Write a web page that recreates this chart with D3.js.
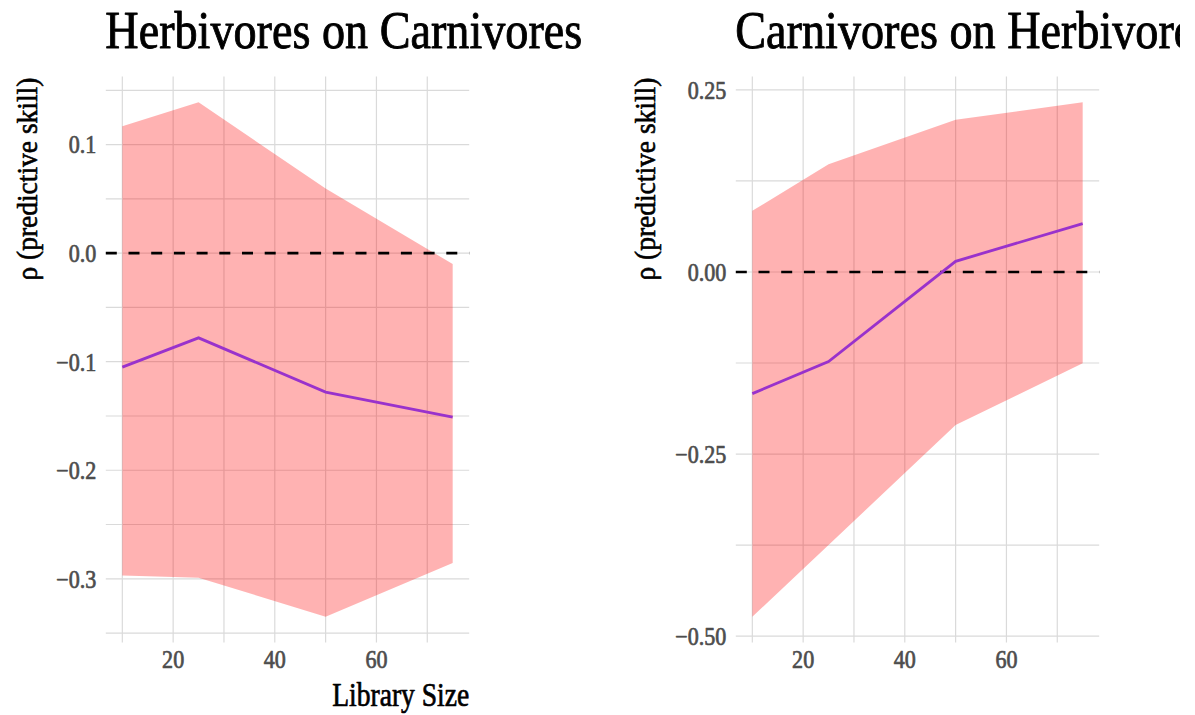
<!DOCTYPE html>
<html>
<head>
<meta charset="utf-8">
<script src="https://cdn.jsdelivr.net/npm/d3@7"></script>
<style>
  html, body { margin: 0; padding: 0; background: #fff; }
  svg { display: block; }
  text { font-family: "Liberation Serif", "Times New Roman", serif; paint-order: stroke; stroke-linejoin: round; }
</style>
</head>
<body>
<svg id="chart" width="1195" height="715"></svg>
<script>
// Library sizes used for the cross-mapping runs
const librarySize = [10, 25, 50, 75];

// Herbivores on Carnivores: mean rho and its band
const hocRho   = [-0.105, -0.078, -0.128, -0.151];
const hocUpper = [0.117, 0.139, 0.0595, -0.010];
const hocLower = [-0.297, -0.299, -0.335, -0.2855];

// Carnivores on Herbivores: mean rho and its band
const cohRho   = [-0.167, -0.123, 0.0147, 0.0664];
const cohUpper = [0.084, 0.148, 0.209, 0.233];
const cohLower = [-0.4735, -0.375, -0.210, -0.1254];

// Axis breaks
const xMajor = [20, 40, 60];
const xMinor = [10, 30, 50, 70];
const hocYMajor = [-0.3, -0.2, -0.1, 0.0, 0.1];
const hocYMinor = [-0.35, -0.25, -0.15, -0.05, 0.05, 0.15];
const cohYMajor = [-0.50, -0.25, 0.00, 0.25];
const cohYMinor = [-0.375, -0.125, 0.125];

const titles = ["Herbivores on Carnivores", "Carnivores on Herbivores"];
const yTitle = "\u03C1 (predictive skill)";
const xTitle = "Library Size";

const svg = d3.select("#chart");

// the right-hand plot is cropped a little short of the window edge
svg.append("defs").append("clipPath").attr("id", "plotClip")
  .append("rect").attr("x", 0).attr("y", 0).attr("width", 1180).attr("height", 715);
const root = svg.append("g").attr("clip-path", "url(#plotClip)");

const panelTop = 76.6, panelBottom = 642.5, panelWidth = 363.4;

// Squeeze a text element horizontally to a fraction of its natural width
function condense(sel, k) {
  sel.each(function () {
    const len = this.getComputedTextLength();
    d3.select(this).attr("textLength", len * k).attr("lengthAdjust", "spacingAndGlyphs");
  });
}
// Fit a text element to an exact width
function fitWidth(sel, w) {
  sel.attr("textLength", w).attr("lengthAdjust", "spacingAndGlyphs");
}

function expand(ext, f = 0.05) {
  const pad = (ext[1] - ext[0]) * f;
  return [ext[0] - pad, ext[1] + pad];
}

function drawPanel(cfg) {
  const g = root.append("g");
  const x = d3.scaleLinear()
    .domain(expand(d3.extent(librarySize)))
    .range([cfg.left, cfg.left + panelWidth]);
  const y = d3.scaleLinear()
    .domain(expand([d3.min(cfg.lower), d3.max(cfg.upper)]))
    .range([panelBottom, panelTop]);

  const gridColor = "#dadada";
  // grid
  g.append("g").selectAll("line")
    .data(xMajor.concat(xMinor)).join("line")
    .attr("x1", d => x(d)).attr("x2", d => x(d))
    .attr("y1", panelTop).attr("y2", panelBottom)
    .attr("stroke", gridColor).attr("stroke-width", 1.2);
  g.append("g").selectAll("line")
    .data(cfg.yMajor.concat(cfg.yMinor)).join("line")
    .attr("x1", x.range()[0]).attr("x2", x.range()[1])
    .attr("y1", d => y(d)).attr("y2", d => y(d))
    .attr("stroke", gridColor).attr("stroke-width", 1.2);

  const rows = librarySize.map((l, i) => ({ l, rho: cfg.rho[i], lo: cfg.lower[i], hi: cfg.upper[i] }));

  // confidence band
  g.append("path")
    .datum(rows)
    .attr("d", d3.area().x(d => x(d.l)).y0(d => y(d.lo)).y1(d => y(d.hi)))
    .attr("fill", "#ff0000").attr("fill-opacity", 0.3);

  // zero reference
  g.append("line")
    .attr("x1", x.range()[0]).attr("x2", x.range()[1])
    .attr("y1", y(0)).attr("y2", y(0))
    .attr("stroke", "#000").attr("stroke-width", 2.7)
    .attr("stroke-dasharray", "11,11.7");

  // mean rho
  g.append("path")
    .datum(rows)
    .attr("d", d3.line().x(d => x(d.l)).y(d => y(d.rho)))
    .attr("fill", "none").attr("stroke", "#9932CC").attr("stroke-width", 2.8);

  // y tick labels
  const yl = g.append("g").selectAll("text")
    .data(cfg.yMajor).join("text")
    .attr("x", x.range()[0] - 9.5).attr("y", d => y(d))
    .attr("dy", "0.36em").attr("text-anchor", "end")
    .attr("font-size", 24.5).attr("fill", "#4d4d4d")
    .attr("stroke", "#4d4d4d").attr("stroke-width", 0.7)
    .text(d => cfg.fmt(d));
  condense(yl, 0.9);

  // x tick labels
  const xl = g.append("g").selectAll("text")
    .data(xMajor).join("text")
    .attr("x", d => x(d)).attr("y", 668)
    .attr("text-anchor", "middle")
    .attr("font-size", 24.5).attr("fill", "#4d4d4d")
    .attr("stroke", "#4d4d4d").attr("stroke-width", 0.7)
    .text(d => d);
  condense(xl, 0.9);

  // panel title
  const t = root.append("text")
    .attr("x", cfg.left - 0.5).attr("y", 48)
    .attr("font-size", 52).attr("fill", "#000")
    .attr("stroke", "#000").attr("stroke-width", 0.9)
    .text(cfg.title);
  fitWidth(t, 477);

  // y axis title, aligned to the top of the panel
  const yt = root.append("text")
    .attr("transform", `translate(${cfg.yTitleX},${panelTop + 1}) rotate(-90)`)
    .attr("text-anchor", "end")
    .attr("font-size", 29).attr("fill", "#000")
    .attr("stroke", "#000").attr("stroke-width", 0.6)
    .text(yTitle);
  fitWidth(yt, 203);

  if (cfg.showX) {
    const xt = root.append("text")
      .attr("x", x.range()[1]).attr("y", 705.5)
      .attr("text-anchor", "end")
      .attr("font-size", 33).attr("fill", "#000")
      .attr("stroke", "#000").attr("stroke-width", 0.7)
      .text(xTitle);
    fitWidth(xt, 137);
  }
}

drawPanel({
  left: 105.8, title: titles[0], rho: hocRho, upper: hocUpper, lower: hocLower,
  yMajor: hocYMajor, yMinor: hocYMinor, fmt: d3.format(".1f"), yTitleX: 37, showX: true
});
drawPanel({
  left: 735.8, title: titles[1], rho: cohRho, upper: cohUpper, lower: cohLower,
  yMajor: cohYMajor, yMinor: cohYMinor, fmt: d3.format(".2f"), yTitleX: 655, showX: false
});
</script>
</body>
</html>
